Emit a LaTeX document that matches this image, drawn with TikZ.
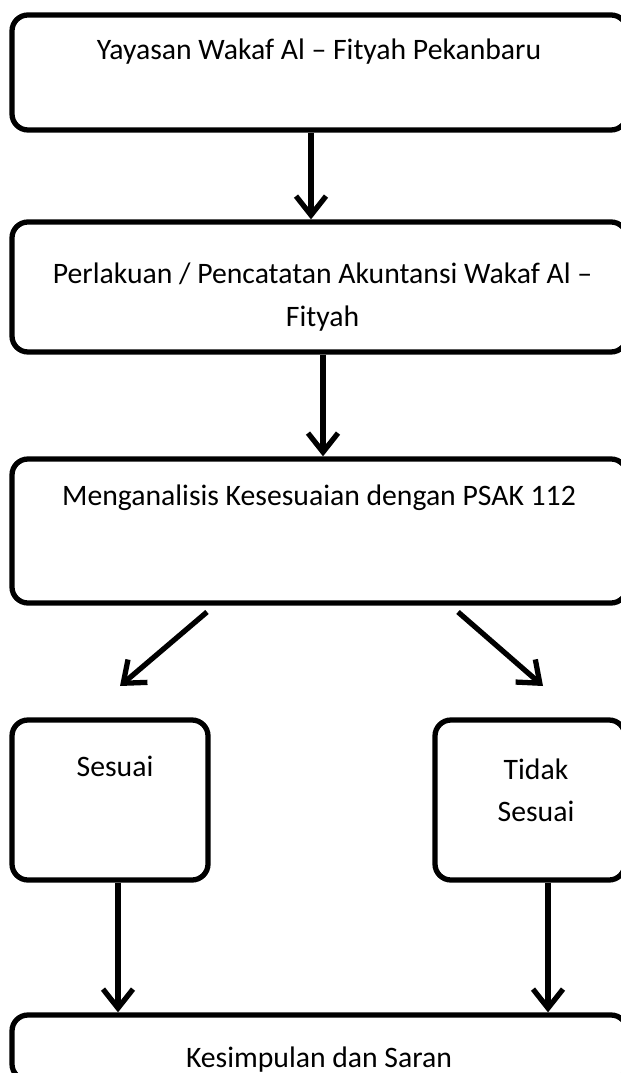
\documentclass[tikz,border=0pt]{standalone}
\usepackage{fontspec}
\setmainfont{Carlito}
\usepackage{tikz}
\usetikzlibrary{arrows.meta, positioning}

\tikzset{
  kotak/.style={rectangle, rounded corners=0.32cm, draw=black, line width=3pt},
  teks/.style={font=\fontsize{16.9}{24}\selectfont, align=center, inner sep=0pt},
  panah/.style={line width=3pt, -{Straight Barb[length=0.38cm, width=0.6cm, line width=3pt]}}
}

\begin{document}
\begin{tikzpicture}
\useasboundingbox (0,0) rectangle (12.42,-21.46);

% Top box
\node[kotak, minimum width=12.3cm, minimum height=2.3cm] (yayasan) at (6.39,-1.45) {};
\node[teks] (yayasantext) at (6.38,-1.04) {Yayasan Wakaf Al -- Fityah Pekanbaru};

% Second box
\node[kotak, minimum width=12.3cm, minimum height=2.6cm] (perlakuan) at (6.39,-5.74) {};
\node[teks] (perlakuantext) at (6.45,-5.94) {Perlakuan / Pencatatan Akuntansi Wakaf Al --\\ Fityah};

% Third box
\node[kotak, minimum width=12.3cm, minimum height=2.88cm] (analisis) at (6.39,-10.62) {};
\node[teks] (analisistext) at (6.38,-9.96) {Menganalisis Kesesuaian dengan PSAK 112};

% Result boxes
\node[kotak, minimum width=3.92cm, minimum height=3.2cm] (sesuai) at (2.2,-16) {};
\node[teks] (sesuaitext) at (2.3,-15.32) {Sesuai};
\node[kotak, minimum width=3.8cm, minimum height=3.2cm] (tidaksesuai) at (10.6,-16) {};
\node[teks] (tidaksesuaitext) at (10.72,-15.8) {Tidak\\ Sesuai};

% Bottom box
\node[kotak, minimum width=12.3cm, minimum height=1.3cm] (kesimpulan) at (6.39,-20.95) {};
\node[teks] (kesimpulantext) at (6.38,-21.2) {Kesimpulan dan Saran};

% Arrows
\draw[panah] ([xshift=-0.17cm]yayasan.south) -- ([xshift=-0.17cm]perlakuan.north);
\draw[panah] ([xshift=0.07cm]perlakuan.south) -- ([xshift=0.07cm]analisis.north);

\coordinate (kiriawal) at (4.14,-12.24);
\coordinate (kiriakhir) at (2.4,-13.72);
\coordinate (kananawal) at (9.16,-12.24);
\coordinate (kananakhir) at (10.86,-13.72);
\draw[panah] (kiriawal) -- (kiriakhir);
\draw[panah] (kananawal) -- (kananakhir);

\draw[panah] ([xshift=0.16cm]sesuai.south) -- ([xshift=0.16cm]sesuai.south |- kesimpulan.north);
\draw[panah] ([xshift=0.36cm]tidaksesuai.south) -- ([xshift=0.36cm]tidaksesuai.south |- kesimpulan.north);
\end{tikzpicture}
\end{document}
